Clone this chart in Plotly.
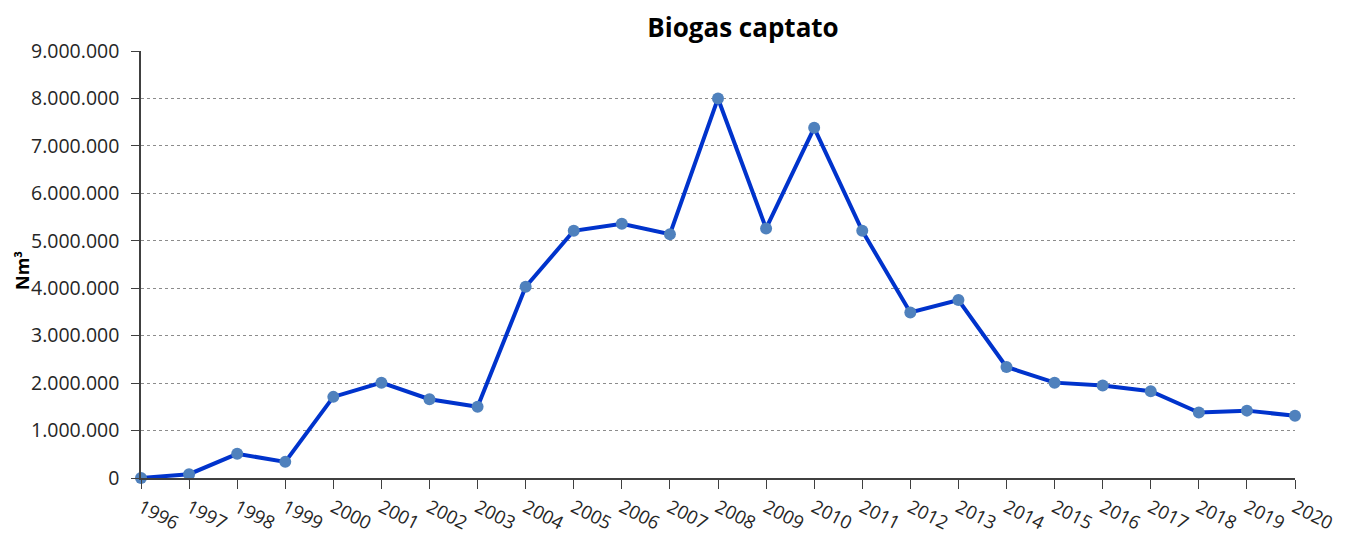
import plotly.graph_objects as go

years = list(range(1996, 2021))
biogas = [0, 80000, 510000, 340000, 1710000, 2010000, 1660000, 1500000, 4030000,
          5210000, 5360000, 5140000, 8000000, 5260000, 7380000, 5210000, 3490000,
          3750000, 2340000, 2010000, 1950000, 1830000, 1380000, 1420000, 1310000]
y_ticks = [0, 1000000, 2000000, 3000000, 4000000, 5000000, 6000000, 7000000, 8000000, 9000000]

font_family = "Open Sans, Liberation Sans, sans-serif"
OFF = 8  # page body margin
W, H = 1354 - OFF, 538 - OFF
PX0, PX1, PY0, PY1 = 141, 1295, 51, 478  # plot area in window pixels
L, T = PX0 - OFF, PY0 - OFF
R = W - L - (PX1 - PX0)
B = H - T - (PY1 - PY0)

fig = go.Figure()
fig.add_trace(go.Scatter(
    x=years, y=biogas, mode="lines+markers",
    line=dict(color="#0033CC", width=4),
    marker=dict(color="#4F81BD", size=12),
    cliponaxis=False,
    showlegend=False,
))

fig.update_layout(
    width=W, height=H,
    margin=dict(l=L, r=R, t=T, b=B, autoexpand=False),
    paper_bgcolor="white", plot_bgcolor="white",
    separators=",.",
    font=dict(family=font_family, color="#262626", size=19),
    title=dict(text="<b>Biogas captato</b>", x=(743 - OFF) / W, xref="container", xanchor="center",
               y=1 - (28 - OFF) / H, yref="container", yanchor="middle",
               font=dict(size=26, color="black", family=font_family)),
)

fig.add_annotation(
    text="<b>Nm³</b>", textangle=-90, showarrow=False,
    xref="paper", yref="paper", x=-(PX0 - 22) / (PX1 - PX0), y=(PY1 - 271) / (PY1 - PY0),
    xanchor="center", yanchor="middle", font=dict(size=18, color="black", family=font_family),
)

fig.update_xaxes(
    range=[1996, 2020], tickmode="array", tickvals=years, ticktext=[str(y) for y in years],
    tickangle=27, ticks="outside", ticklen=9, tickcolor="#404040", tickwidth=1,
    showline=True, linecolor="#404040", linewidth=1.5, showgrid=False, zeroline=False,
    tickfont=dict(size=18.5, color="#262626"), automargin=False, ticklabelstandoff=1,
)
fig.update_yaxes(
    range=[0, 9000000], tickmode="array", tickvals=y_ticks, tickformat=",d",
    ticks="outside", ticklen=8, tickcolor="#404040",
    showline=True, linecolor="#404040", linewidth=1.5,
    showgrid=True, gridcolor="#8c8c8c", griddash="dot", gridwidth=1, zeroline=False,
    tickfont=dict(size=19.5, color="#262626"), automargin=False, ticklabelstandoff=8,
)

fig.write_html("out.html")
